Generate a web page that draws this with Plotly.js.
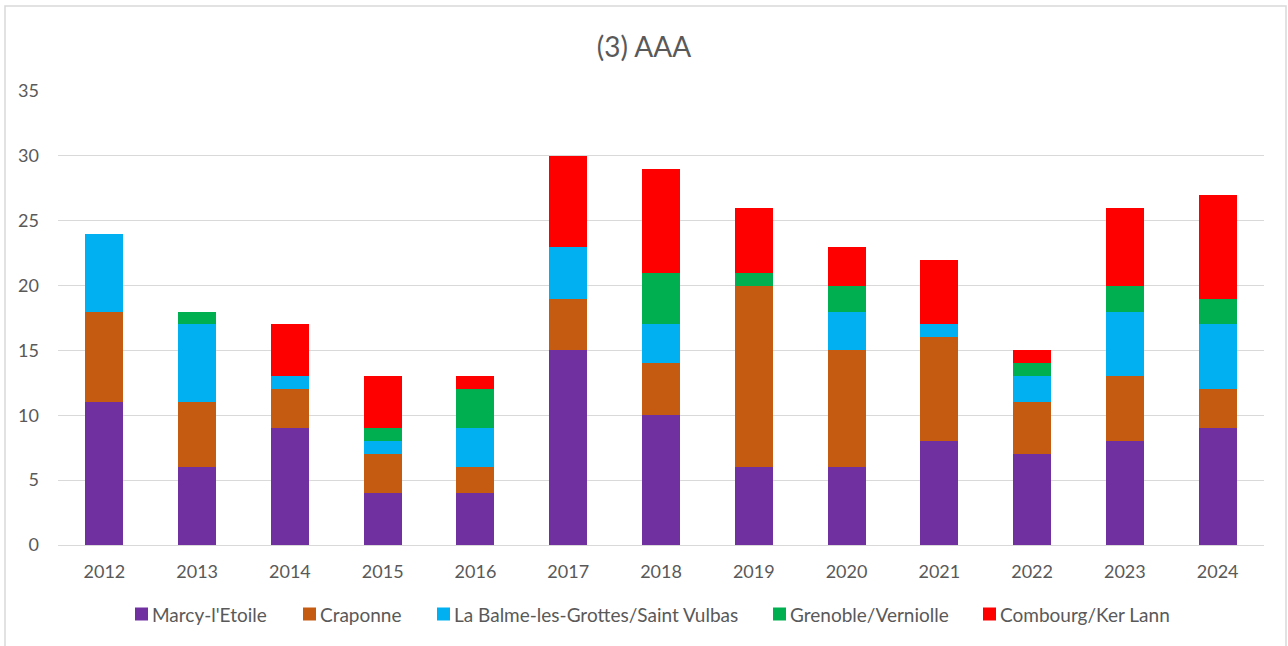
<!DOCTYPE html>
<html>
<head>
<meta charset="utf-8">
<script src="https://cdn.plot.ly/plotly-3.0.1.min.js"></script>
<style>
  html, body { margin: 0; padding: 0; background: #ffffff; }
  #chart { width: 1288px; height: 646px; }
</style>
</head>
<body>
<div id="chart"></div>
<script>
// Years on the category axis
const years = ['2012', '2013', '2014', '2015', '2016', '2017', '2018', '2019', '2020', '2021', '2022', '2023', '2024'];

// Counts per site, stacked in this order
const marcy     = [11, 6, 9, 4, 4, 15, 10, 6, 6, 8, 7, 8, 9];
const craponne  = [7, 5, 3, 3, 2, 4, 4, 14, 9, 8, 4, 5, 3];
const balme     = [6, 6, 1, 1, 3, 4, 3, 0, 3, 1, 2, 5, 5];
const grenoble  = [0, 1, 0, 1, 3, 0, 4, 1, 2, 0, 1, 2, 2];
const combourg  = [0, 0, 4, 4, 1, 7, 8, 5, 3, 5, 1, 6, 8];

const seriesNames = ["Marcy-l'Etoile", 'Craponne', 'La Balme-les-Grottes/Saint Vulbas', 'Grenoble/Verniolle', 'Combourg/Ker Lann'];
const seriesValues = [marcy, craponne, balme, grenoble, combourg];
const seriesColors = ['#7030A0', '#C55A11', '#00B0F0', '#00B050', '#FF0000'];

const W = 1288, H = 646;
const M = { l: 58, r: 24, t: 91, b: 101 };
const plotW = W - M.l - M.r, plotH = H - M.t - M.b;
// pixel -> paper helpers (relative to the plot area)
const px = x => (x - M.l) / plotW;
const py = y => (H - M.b - y) / plotH;

const traces = seriesNames.map((name, i) => ({
  type: 'bar',
  name: name,
  x: years,
  y: seriesValues[i],
  marker: { color: seriesColors[i], line: { width: 0 } },
  showlegend: false,
  hoverinfo: 'x+y+name'
}));

const font = 'Lato, "Open Sans", "Liberation Sans", sans-serif';
const grey = '#595959';

// Legend row under the chart: a small colour square followed by the series name
const legendLeft = [135, 303, 437, 773, 983];
const legendMidY = 614;
const sq = 13;
const legendShapes = seriesNames.map((n, i) => ({
  type: 'rect', xref: 'paper', yref: 'paper',
  x0: px(legendLeft[i]), x1: px(legendLeft[i] + sq),
  y0: py(legendMidY + sq / 2), y1: py(legendMidY - sq / 2),
  fillcolor: seriesColors[i], line: { width: 0 }
}));
const legendLabels = seriesNames.map((n, i) => ({
  xref: 'paper', yref: 'paper',
  x: px(legendLeft[i] + sq + 2), y: py(legendMidY),
  xanchor: 'left', yanchor: 'middle',
  text: n, showarrow: false,
  font: { family: font, size: 19, color: grey }
}));

const layout = {
  width: W,
  height: H,
  paper_bgcolor: '#ffffff',
  plot_bgcolor: '#ffffff',
  barmode: 'stack',
  bargap: 0.59,
  margin: M,
  font: { family: font, color: grey, size: 18 },
  title: {
    text: '(3) AAA',
    x: 0.5,
    xanchor: 'center',
    y: 1 - 47 / H,
    yanchor: 'middle',
    font: { family: font, size: 28, color: grey }
  },
  xaxis: {
    type: 'category',
    showgrid: false,
    showline: true,
    linecolor: '#D9D9D9',
    linewidth: 1,
    ticks: '',
    ticklabelstandoff: 10,
    tickfont: { family: font, size: 18, color: grey }
  },
  yaxis: {
    range: [0, 35],
    dtick: 5,
    tick0: 0,
    showgrid: true,
    gridcolor: '#D9D9D9',
    gridwidth: 1,
    zeroline: true,
    zerolinecolor: '#D9D9D9',
    zerolinewidth: 1,
    showline: false,
    ticks: '',
    ticklabelstandoff: 18,
    tickfont: { family: font, size: 18, color: grey }
  },
  showlegend: false,
  annotations: legendLabels,
  shapes: [{
    type: 'rect',
    xref: 'paper', yref: 'paper',
    x0: px(5), x1: px(1286),
    y0: py(660), y1: py(6),
    line: { color: '#D9D9D9', width: 1.5 },
    fillcolor: 'rgba(0,0,0,0)',
    layer: 'below'
  }].concat(legendShapes)
};

Plotly.newPlot('chart', traces, layout, { displayModeBar: false, staticPlot: true });
</script>
</body>
</html>
